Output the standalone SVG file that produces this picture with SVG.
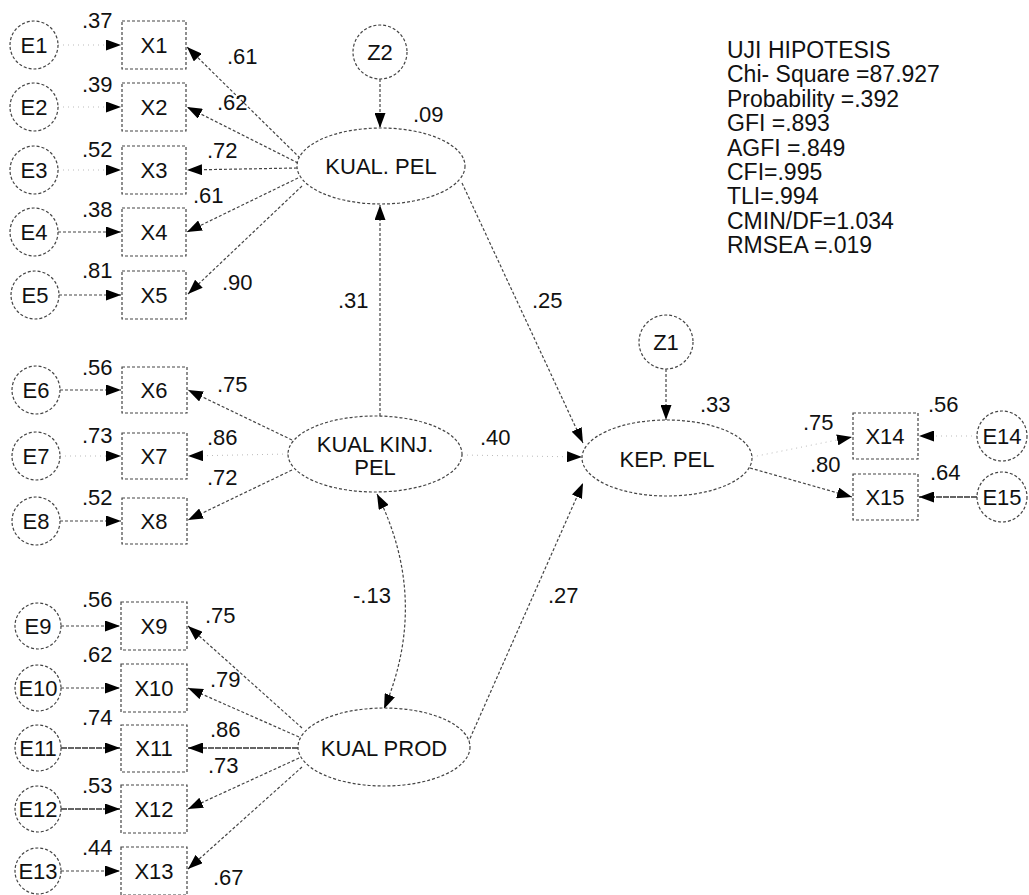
<svg xmlns="http://www.w3.org/2000/svg" width="1029" height="895" viewBox="0 0 1029 895">
<defs>
<marker id="ah" markerUnits="userSpaceOnUse" markerWidth="15" markerHeight="11" refX="15" refY="5.5" orient="auto-start-reverse">
<path d="M0,0 L15,5.5 L0,11 z" fill="#000"/>
</marker>
<style>
text{font-family:"Liberation Sans",Arial,sans-serif;fill:#111;}
.lb{font-size:22px;}
.nt{font-size:22px;text-anchor:middle;}
.st{font-size:23px;}
.nd{fill:#fff;stroke:#444;stroke-width:1.2;stroke-dasharray:3,2;}
.c{fill:none;stroke:#444;stroke-width:1.2;stroke-dasharray:3,2;marker-end:url(#ah);}
.cf{fill:none;stroke:#bbb;stroke-width:1;stroke-dasharray:1,4;marker-end:url(#ah);}
.cs{fill:none;stroke:#333;stroke-width:1.3;stroke-dasharray:6,1;marker-end:url(#ah);}
</style>
</defs>
<rect width="1029" height="895" fill="#fff"/>
<g id="connectors">
<line class="cf" x1="58" y1="45" x2="121" y2="45"/>
<line class="cf" x1="58" y1="107" x2="121" y2="107"/>
<line class="cf" x1="58" y1="170" x2="121" y2="170"/>
<line class="c" x1="58" y1="232" x2="121" y2="232"/>
<line class="c" x1="59" y1="295" x2="121" y2="295"/>
<line class="c" x1="60" y1="390" x2="121" y2="390"/>
<line class="cf" x1="60" y1="456" x2="121" y2="456"/>
<line class="c" x1="60" y1="521" x2="121" y2="521"/>
<line class="c" x1="61" y1="626" x2="120" y2="626"/>
<line class="c" x1="61" y1="688" x2="120" y2="688"/>
<line class="cs" x1="61" y1="748" x2="120" y2="748"/>
<line class="cs" x1="61" y1="809" x2="120" y2="809"/>
<line class="c" x1="61" y1="871" x2="120" y2="871"/>
<line class="c" x1="300" y1="158" x2="187" y2="47"/>
<line class="c" x1="298" y1="163" x2="187" y2="107"/>
<line class="c" x1="297" y1="168" x2="187" y2="170"/>
<line class="c" x1="298" y1="178" x2="187" y2="232"/>
<line class="c" x1="302" y1="186" x2="188" y2="294"/>
<line class="c" x1="292" y1="440" x2="188" y2="390"/>
<line class="cf" x1="288" y1="454" x2="188" y2="456"/>
<line class="c" x1="292" y1="470" x2="188" y2="520"/>
<line class="c" x1="302" y1="728" x2="188" y2="626"/>
<line class="c" x1="299" y1="737" x2="188" y2="688"/>
<line class="cs" x1="298" y1="748" x2="188" y2="748"/>
<line class="c" x1="299" y1="758" x2="188" y2="809"/>
<line class="c" x1="302" y1="767" x2="188" y2="869"/>
<line class="c" x1="380" y1="79" x2="380" y2="128"/>
<line class="c" x1="380" y1="416" x2="380" y2="205"/>
<line class="c" x1="462" y1="183" x2="583" y2="443"/>
<line class="cf" x1="462" y1="455" x2="582" y2="457"/>
<line class="c" x1="468" y1="743" x2="583" y2="483"/>
<path class="c" d="M377,494 Q430,600 384,709" marker-start="url(#ah)"/>
<line class="c" x1="666" y1="369" x2="666" y2="420"/>
<line class="cf" x1="752" y1="457" x2="852" y2="437"/>
<line class="c" x1="750" y1="468" x2="852" y2="497"/>
<line class="cf" x1="977" y1="436" x2="919" y2="436"/>
<line class="cs" x1="977" y1="497" x2="919" y2="497"/>
</g>
<g id="E1"><circle class="nd" cx="34" cy="45" r="24"/><text class="nt" x="34" y="53">E1</text></g>
<g id="E2"><circle class="nd" cx="34" cy="107" r="24"/><text class="nt" x="34" y="115">E2</text></g>
<g id="E3"><circle class="nd" cx="34" cy="170" r="24"/><text class="nt" x="34" y="178">E3</text></g>
<g id="E4"><circle class="nd" cx="34" cy="232" r="24"/><text class="nt" x="34" y="240">E4</text></g>
<g id="E5"><circle class="nd" cx="35" cy="295" r="24"/><text class="nt" x="35" y="303">E5</text></g>
<g id="E6"><circle class="nd" cx="36" cy="390" r="24"/><text class="nt" x="36" y="398">E6</text></g>
<g id="E7"><circle class="nd" cx="36" cy="456" r="24"/><text class="nt" x="36" y="464">E7</text></g>
<g id="E8"><circle class="nd" cx="36" cy="521" r="24"/><text class="nt" x="36" y="529">E8</text></g>
<g id="E9"><circle class="nd" cx="38" cy="626" r="23"/><text class="nt" x="38" y="634">E9</text></g>
<g id="E10"><circle class="nd" cx="38" cy="688" r="23"/><text class="nt" x="38" y="696">E10</text></g>
<g id="E11"><circle class="nd" cx="38" cy="748" r="23"/><text class="nt" x="38" y="756">E11</text></g>
<g id="E12"><circle class="nd" cx="38" cy="809" r="23"/><text class="nt" x="38" y="817">E12</text></g>
<g id="E13"><circle class="nd" cx="38" cy="871" r="23"/><text class="nt" x="38" y="879">E13</text></g>
<g id="X1"><rect class="nd" x="122" y="21" width="64" height="48"/><text class="nt" x="154" y="53">X1</text></g>
<g id="X2"><rect class="nd" x="122" y="83" width="64" height="48"/><text class="nt" x="154" y="115">X2</text></g>
<g id="X3"><rect class="nd" x="122" y="146" width="64" height="48"/><text class="nt" x="154" y="178">X3</text></g>
<g id="X4"><rect class="nd" x="122" y="208" width="64" height="48"/><text class="nt" x="154" y="240">X4</text></g>
<g id="X5"><rect class="nd" x="122" y="271" width="64" height="48"/><text class="nt" x="154" y="303">X5</text></g>
<g id="X6"><rect class="nd" x="122" y="367" width="65" height="46"/><text class="nt" x="154" y="398">X6</text></g>
<g id="X7"><rect class="nd" x="122" y="433" width="65" height="46"/><text class="nt" x="154" y="464">X7</text></g>
<g id="X8"><rect class="nd" x="122" y="498" width="65" height="46"/><text class="nt" x="154" y="529">X8</text></g>
<g id="X9"><rect class="nd" x="121" y="602" width="66" height="48"/><text class="nt" x="154" y="634">X9</text></g>
<g id="X10"><rect class="nd" x="121" y="664" width="66" height="48"/><text class="nt" x="154" y="696">X10</text></g>
<g id="X11"><rect class="nd" x="121" y="725" width="66" height="47"/><text class="nt" x="154" y="756">X11</text></g>
<g id="X12"><rect class="nd" x="121" y="785" width="66" height="48"/><text class="nt" x="154" y="817">X12</text></g>
<g id="X13"><rect class="nd" x="121" y="847" width="66" height="48"/><text class="nt" x="154" y="879">X13</text></g>
<g id="X14"><rect class="nd" x="853" y="413" width="65" height="46"/><text class="nt" x="885" y="444">X14</text></g>
<g id="X15"><rect class="nd" x="853" y="474" width="65" height="46"/><text class="nt" x="885" y="505">X15</text></g>
<g id="E14"><circle class="nd" cx="1002" cy="436" r="25"/><text class="nt" x="1002" y="444">E14</text></g>
<g id="E15"><circle class="nd" cx="1002" cy="497" r="25"/><text class="nt" x="1002" y="505">E15</text></g>
<g id="Z2"><circle class="nd" cx="380" cy="52" r="27"/><text class="nt" x="380" y="60">Z2</text></g>
<g id="Z1"><circle class="nd" cx="666" cy="342" r="27"/><text class="nt" x="666" y="350">Z1</text></g>
<g id="KUAL_PEL"><ellipse class="nd" cx="381" cy="166" rx="84" ry="38"/><text class="nt" x="381" y="174">KUAL. PEL</text></g>
<g id="KUAL_KINJ_PEL"><ellipse class="nd" cx="375" cy="454" rx="87" ry="38"/><text class="nt" x="375" y="452">KUAL KINJ.</text><text class="nt" x="375" y="475">PEL</text></g>
<g id="KEP_PEL"><ellipse class="nd" cx="667" cy="458" rx="85" ry="38"/><text class="nt" x="667" y="467">KEP. PEL</text></g>
<g id="KUAL_PROD"><ellipse class="nd" cx="384" cy="747" rx="86" ry="39"/><text class="nt" x="384" y="756">KUAL PROD</text></g>
<g id="labels" class="lb">
<text class="lb" x="82" y="28">.37</text>
<text class="lb" x="82" y="92">.39</text>
<text class="lb" x="82" y="157">.52</text>
<text class="lb" x="82" y="217">.38</text>
<text class="lb" x="82" y="278">.81</text>
<text class="lb" x="82" y="375">.56</text>
<text class="lb" x="82" y="443">.73</text>
<text class="lb" x="82" y="505">.52</text>
<text class="lb" x="82" y="607">.56</text>
<text class="lb" x="82" y="662">.62</text>
<text class="lb" x="82" y="725">.74</text>
<text class="lb" x="82" y="793">.53</text>
<text class="lb" x="82" y="855">.44</text>
<text class="lb" x="227" y="64">.61</text>
<text class="lb" x="217" y="110">.62</text>
<text class="lb" x="207" y="158">.72</text>
<text class="lb" x="193" y="203">.61</text>
<text class="lb" x="222" y="290">.90</text>
<text class="lb" x="217" y="392">.75</text>
<text class="lb" x="207" y="445">.86</text>
<text class="lb" x="207" y="485">.72</text>
<text class="lb" x="205" y="623">.75</text>
<text class="lb" x="210" y="687">.79</text>
<text class="lb" x="210" y="737">.86</text>
<text class="lb" x="208" y="773">.73</text>
<text class="lb" x="213" y="885">.67</text>
<text class="lb" x="413" y="122">.09</text>
<text class="lb" x="338" y="308">.31</text>
<text class="lb" x="532" y="308">.25</text>
<text class="lb" x="480" y="445">.40</text>
<text class="lb" x="353" y="603">-.13</text>
<text class="lb" x="548" y="603">.27</text>
<text class="lb" x="700" y="412">.33</text>
<text class="lb" x="803" y="430">.75</text>
<text class="lb" x="810" y="472">.80</text>
<text class="lb" x="928" y="412">.56</text>
<text class="lb" x="930" y="480">.64</text>
</g>
<g id="fit_stats" class="st">
<text class="st" x="727" y="58">UJI HIPOTESIS</text>
<text class="st" x="727" y="82">Chi- Square =87.927</text>
<text class="st" x="727" y="107">Probability =.392</text>
<text class="st" x="727" y="131">GFI =.893</text>
<text class="st" x="727" y="156">AGFI =.849</text>
<text class="st" x="727" y="180">CFI=.995</text>
<text class="st" x="727" y="204">TLI=.994</text>
<text class="st" x="727" y="229">CMIN/DF=1.034</text>
<text class="st" x="727" y="253">RMSEA =.019</text>
</g>
</svg>
